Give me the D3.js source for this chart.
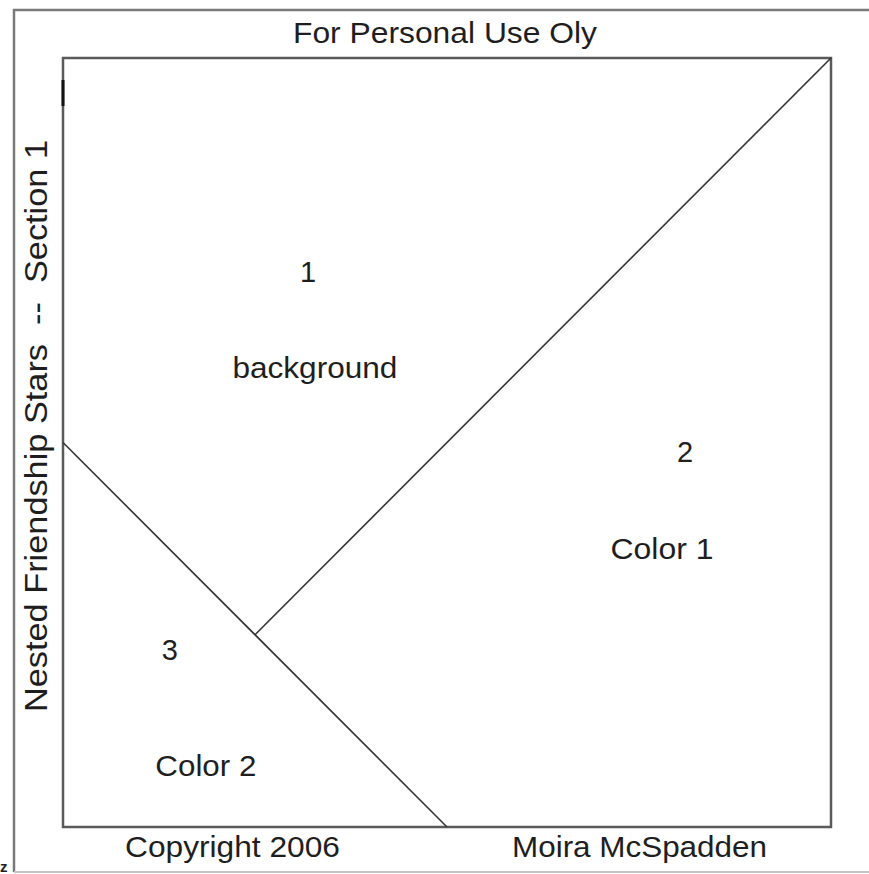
<!DOCTYPE html>
<html>
<head>
<meta charset="utf-8">
<script src="https://cdn.jsdelivr.net/npm/d3@7"></script>
<style>
  html, body { margin: 0; padding: 0; background: #fff; }
  svg { display: block; }
  text { font-family: "Liberation Sans", Arial, sans-serif; fill: #1e1e1e; white-space: pre; }
</style>
</head>
<body>
<div id="chart"></div>
<script>
// block outline and seam lines, in unit-square coordinates (0..1, y up)
var blockCorners = [[0, 0], [1, 0], [1, 1], [0, 1]];
var seamA = [[0, 0.5], [0.5, 0]];
var seamB = [[1, 1], [0.25, 0.25]];

// piece labels
var pieceNumbers = ["1", "2", "3"];
var pieceNames = ["background", "Color 1", "Color 2"];
var numberAnchors = [[0.319, 0.722], [0.81, 0.488], [0.139, 0.230]];
var nameAnchors = [[0.328, 0.597], [0.78, 0.3615], [0.186, 0.079]];

var titleText = "For Personal Use Oly";
var sideText = "Nested Friendship Stars  --  Section 1";
var footLeft = "Copyright 2006";
var footRight = "Moira McSpadden";

var width = 869, height = 874;

var svg = d3.select("#chart").append("svg")
  .attr("width", width)
  .attr("height", height);

// outer frame of the page (right side falls outside the picture)
svg.append("path")
  .attr("d", "M884,10H14V872")
  .attr("fill", "none")
  .attr("stroke", "#7a7a7a")
  .attr("stroke-width", 2.5);
svg.append("line")
  .attr("x1", 14).attr("x2", 884)
  .attr("y1", 872).attr("y2", 872)
  .attr("stroke", "#c4c4c4")
  .attr("stroke-width", 2);

var x = d3.scaleLinear().domain([0, 1]).range([63, 831]);
var y = d3.scaleLinear().domain([0, 1]).range([827, 58]);

var line = d3.line()
  .x(function (d) { return x(d[0]); })
  .y(function (d) { return y(d[1]); });

var g = svg.append("g").attr("class", "block");

g.append("path")
  .attr("d", line(blockCorners) + "Z")
  .attr("fill", "none")
  .attr("stroke", "#5a5a5a")
  .attr("stroke-width", 2.5);

// small dark tick on the left edge
g.append("line")
  .attr("x1", x(0)).attr("x2", x(0))
  .attr("y1", 80).attr("y2", 106)
  .attr("stroke", "#111")
  .attr("stroke-width", 3);

g.selectAll("path.seam")
  .data([seamA, seamB])
  .enter().append("path")
  .attr("class", "seam")
  .attr("d", line)
  .attr("fill", "none")
  .attr("stroke", "#333")
  .attr("stroke-width", 1.6);

g.selectAll("text.num")
  .data(pieceNumbers)
  .enter().append("text")
  .attr("class", "num")
  .attr("x", function (d, i) { return x(numberAnchors[i][0]); })
  .attr("y", function (d, i) { return y(numberAnchors[i][1]); })
  .attr("dy", "0.35em")
  .attr("text-anchor", "middle")
  .attr("font-size", 29)
  .text(function (d) { return d; });

var nameWidths = [165, 103, 101];
g.selectAll("text.name")
  .data(pieceNames)
  .enter().append("text")
  .attr("class", "name")
  .attr("x", function (d, i) { return x(nameAnchors[i][0]); })
  .attr("y", function (d, i) { return y(nameAnchors[i][1]); })
  .attr("dy", "0.35em")
  .attr("text-anchor", "middle")
  .attr("font-size", 29)
  .attr("textLength", function (d, i) { return nameWidths[i]; })
  .attr("lengthAdjust", "spacingAndGlyphs")
  .text(function (d) { return d; });

svg.append("text")
  .attr("x", 445).attr("y", 43)
  .attr("text-anchor", "middle")
  .attr("font-size", 29)
  .attr("textLength", 304)
  .attr("lengthAdjust", "spacingAndGlyphs")
  .text(titleText);

svg.append("text")
  .attr("x", 232.5).attr("y", 857)
  .attr("text-anchor", "middle")
  .attr("font-size", 29)
  .attr("textLength", 215)
  .attr("lengthAdjust", "spacingAndGlyphs")
  .text(footLeft);

svg.append("text")
  .attr("x", 639.5).attr("y", 857)
  .attr("text-anchor", "middle")
  .attr("font-size", 29)
  .attr("textLength", 255)
  .attr("lengthAdjust", "spacingAndGlyphs")
  .text(footRight);

svg.append("text")
  .attr("transform", "translate(47,426) rotate(-90)")
  .attr("text-anchor", "middle")
  .attr("font-size", 32)
  .attr("textLength", 572)
  .attr("lengthAdjust", "spacingAndGlyphs")
  .text(sideText);

// stray glyph at the bottom-left corner
svg.append("text")
  .attr("x", 0).attr("y", 872)
  .attr("font-family", "DejaVu Serif, serif")
  .attr("font-weight", "bold")
  .attr("font-size", 15)
  .text("z");
</script>
</body>
</html>
